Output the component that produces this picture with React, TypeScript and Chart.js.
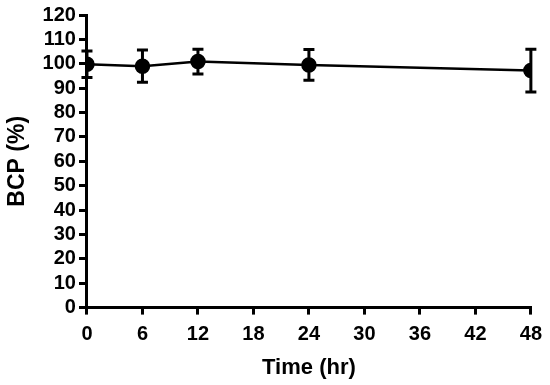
import React, { useEffect, useRef } from "react";
import { Chart, registerables } from "chart.js";

Chart.register(...registerables);

const timesHr = [0, 6, 12, 24, 48];
const bcpMean = [99.8, 99.0, 100.9, 99.5, 97.2];
const bcpErr = [5.4, 6.6, 5.1, 6.3, 8.8];
const xTicks = [0, 6, 12, 18, 24, 30, 36, 42, 48];
const yTicks = [0, 10, 20, 30, 40, 50, 60, 70, 80, 90, 100, 110, 120];

const FONT = "'Liberation Sans', Arial, Helvetica, sans-serif";

const errorBarPlugin = {
  id: "errorBars",
  afterDatasetsDraw(chart: any) {
    const ctx = chart.ctx;
    const xs = chart.scales.x;
    const ys = chart.scales.y;
    ctx.save();
    ctx.strokeStyle = "#000";
    ctx.lineWidth = 3;
    ctx.lineCap = "butt";
    timesHr.forEach((t, i) => {
      const px = xs.getPixelForValue(t);
      const top = ys.getPixelForValue(bcpMean[i] + bcpErr[i]);
      const bot = ys.getPixelForValue(bcpMean[i] - bcpErr[i]);
      ctx.beginPath();
      ctx.moveTo(px, top);
      ctx.lineTo(px, bot);
      ctx.moveTo(px - 5.5, top);
      ctx.lineTo(px + 5.5, top);
      ctx.moveTo(px - 5.5, bot);
      ctx.lineTo(px + 5.5, bot);
      ctx.stroke();
    });
    ctx.restore();
  },
};

export default function App() {
  const ref = useRef<HTMLCanvasElement>(null);
  useEffect(() => {
    document.body.style.margin = "0";
    if (!ref.current) return;
    const chart = new Chart(ref.current, {
      type: "line",
      data: {
        datasets: [
          {
            data: timesHr.map((t, i) => ({ x: t, y: bcpMean[i] })),
            borderColor: "#000",
            backgroundColor: "#000",
            borderWidth: 2.5,
            pointRadius: 6.5,
            pointHoverRadius: 6.5,
            pointBackgroundColor: "#000",
            pointBorderColor: "#000",
            tension: 0,
          },
        ],
      },
      options: {
        animation: false,
        responsive: false,
        maintainAspectRatio: false,
        layout: { padding: { top: 12, right: 18, left: 4, bottom: 0 } },
        plugins: {
          legend: { display: false },
          tooltip: { enabled: false },
        },
        scales: {
          x: {
            type: "linear",
            min: 0,
            max: 48,
            afterBuildTicks: (s: any) => {
              s.ticks = xTicks.map((v) => ({ value: v }));
            },
            grid: {
              drawOnChartArea: false,
              drawTicks: true,
              tickLength: 7,
              color: "#000",
              lineWidth: 3,
            },
            border: { display: true, color: "#000", width: 3 },
            ticks: {
              color: "#000",
              padding: 8,
              autoSkip: false,
              font: { family: FONT, size: 20, weight: "bold" },
              maxRotation: 0,
            },
            title: {
              display: true,
              text: "Time (hr)",
              color: "#000",
              padding: { top: 0, bottom: 4 },
              font: { family: FONT, size: 22, weight: "bold" },
            },
          },
          y: {
            type: "linear",
            min: 0,
            max: 120,
            afterBuildTicks: (s: any) => {
              s.ticks = yTicks.map((v) => ({ value: v }));
            },
            grid: {
              drawOnChartArea: false,
              drawTicks: true,
              tickLength: 8,
              color: "#000",
              lineWidth: 3,
            },
            border: { display: true, color: "#000", width: 3 },
            ticks: {
              color: "#000",
              padding: 3,
              autoSkip: false,
              font: { family: FONT, size: 20, weight: "bold" },
            },
            title: {
              display: true,
              text: "BCP (%)",
              color: "#000",
              padding: { top: 0, bottom: 8 },
              font: { family: FONT, size: 23, weight: "bold" },
            },
          },
        },
      },
      plugins: [errorBarPlugin],
    } as any);
    return () => chart.destroy();
  }, []);
  return (
    <div style={{ width: 550, height: 385, background: "#fff" }}>
      <canvas ref={ref} width={550} height={385} style={{ display: "block" }} />
    </div>
  );
}
